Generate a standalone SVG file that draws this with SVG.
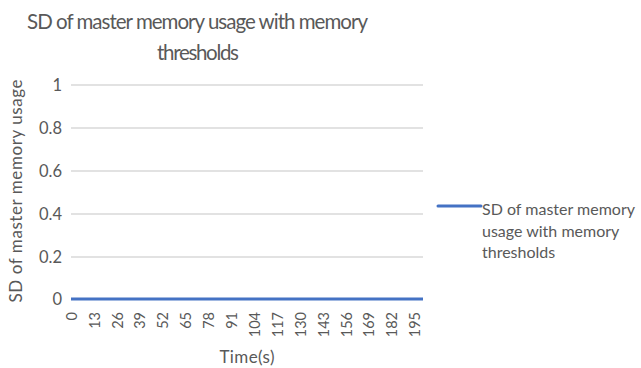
<svg xmlns="http://www.w3.org/2000/svg" width="641" height="368" viewBox="0 0 641 368">
<style>
text{font-family:Lato,"Open Sans",sans-serif;fill:#595959}
.t{font-size:20.5px}
.y{font-size:16.5px;text-anchor:end}
.x{font-size:14.5px;text-anchor:end}
.g{stroke:#d9d9d9;stroke-width:1.3}
.s{stroke:#4472c4;stroke-width:3;fill:none}
.l{font-size:16px}
</style>
<rect width="641" height="368" fill="#ffffff"/>
<g id="title">
<text class="t" x="197.5" y="29" text-anchor="middle" textLength="341">SD of master memory usage with memory</text>
<text class="t" x="198" y="60" text-anchor="middle" textLength="82">thresholds</text>
</g>
<g id="grid">
<line class="g" x1="71" y1="85" x2="423" y2="85"/>
<line class="g" x1="71" y1="128" x2="423" y2="128"/>
<line class="g" x1="71" y1="171" x2="423" y2="171"/>
<line class="g" x1="71" y1="214" x2="423" y2="214"/>
<line class="g" x1="71" y1="257" x2="423" y2="257"/>
</g>
<g id="yticks">
<text class="y" x="62" y="91">1</text>
<text class="y" x="62" y="134">0.8</text>
<text class="y" x="62" y="177">0.6</text>
<text class="y" x="62" y="220">0.4</text>
<text class="y" x="62" y="263">0.2</text>
<text class="y" x="62" y="305">0</text>
</g>
<g id="ytitle">
<text font-size="17" text-anchor="middle" transform="translate(22,191) rotate(-90)" textLength="223">SD of master memory usage</text>
</g>
<g id="xticks">
<text class="x" transform="translate(77,312) rotate(-90)">0</text>
<text class="x" transform="translate(100,312) rotate(-90)">13</text>
<text class="x" transform="translate(123,312) rotate(-90)">26</text>
<text class="x" transform="translate(145,312) rotate(-90)">39</text>
<text class="x" transform="translate(168,312) rotate(-90)">52</text>
<text class="x" transform="translate(191,312) rotate(-90)">65</text>
<text class="x" transform="translate(214,312) rotate(-90)">78</text>
<text class="x" transform="translate(237,312) rotate(-90)">91</text>
<text class="x" transform="translate(260,312) rotate(-90)">104</text>
<text class="x" transform="translate(283,312) rotate(-90)">117</text>
<text class="x" transform="translate(306,312) rotate(-90)">130</text>
<text class="x" transform="translate(329,312) rotate(-90)">143</text>
<text class="x" transform="translate(352,312) rotate(-90)">156</text>
<text class="x" transform="translate(374,312) rotate(-90)">169</text>
<text class="x" transform="translate(397,312) rotate(-90)">182</text>
<text class="x" transform="translate(420,312) rotate(-90)">195</text>
</g>
<g id="xtitle">
<text font-size="17" x="247" y="363" text-anchor="middle" textLength="55">Time(s)</text>
</g>
<g id="series">
<line class="s" x1="71" y1="299" x2="423" y2="299"/>
</g>
<g id="legend">
<line class="s" x1="438" y1="206" x2="481" y2="206" stroke-linecap="round"/>
<text class="l" x="482" y="215" textLength="153">SD of master memory</text>
<text class="l" x="482" y="236.5">usage with memory</text>
<text class="l" x="482" y="258">thresholds</text>
</g>
</svg>
